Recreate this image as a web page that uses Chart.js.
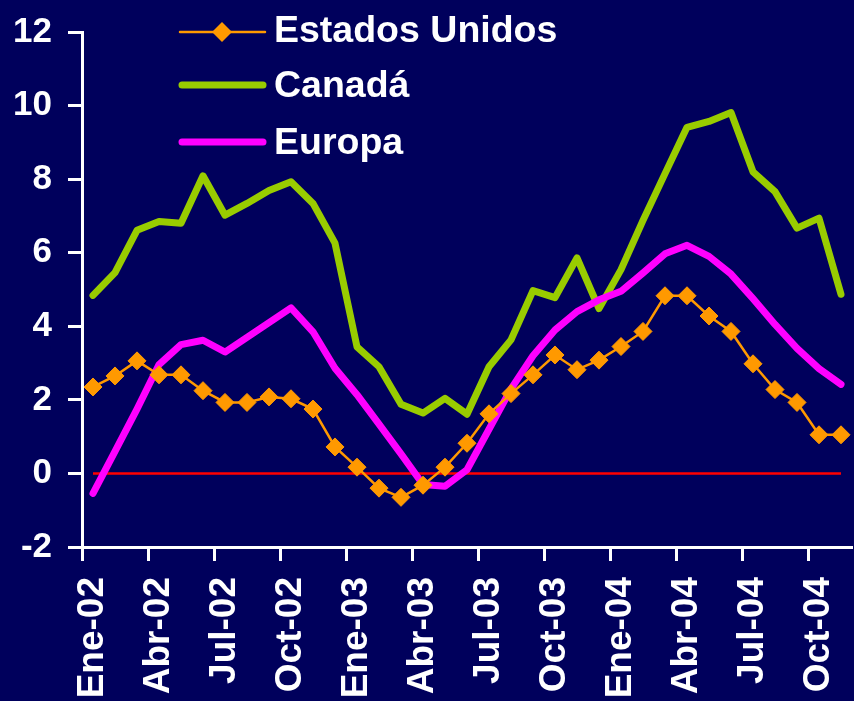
<!DOCTYPE html>
<html>
<head>
<meta charset="utf-8">
<script src="https://cdn.jsdelivr.net/npm/chart.js@4/dist/chart.umd.min.js"></script>
<style>
  html, body { margin: 0; padding: 0; background: #00005c; overflow: hidden; }
  #wrap { width: 862px; height: 701px; position: relative; }
</style>
</head>
<body>
<div id="wrap"><canvas id="inflation-chart"></canvas></div>
<script>
// Monthly labels, Ene-02 .. Nov-04
const months = [
  'Ene-02', 'Feb-02', 'Mar-02', 'Abr-02', 'May-02', 'Jun-02', 'Jul-02', 'Ago-02', 'Sep-02', 'Oct-02', 'Nov-02', 'Dic-02',
  'Ene-03', 'Feb-03', 'Mar-03', 'Abr-03', 'May-03', 'Jun-03', 'Jul-03', 'Ago-03', 'Sep-03', 'Oct-03', 'Nov-03', 'Dic-03',
  'Ene-04', 'Feb-04', 'Mar-04', 'Abr-04', 'May-04', 'Jun-04', 'Jul-04', 'Ago-04', 'Sep-04', 'Oct-04', 'Nov-04'
];

const estadosUnidos = [
  2.35, 2.65, 3.06, 2.68, 2.68, 2.25, 1.93, 1.93, 2.08, 2.03, 1.75, 0.72,
  0.17, -0.40, -0.65, -0.32, 0.17, 0.82, 1.62, 2.17, 2.68, 3.22, 2.82, 3.08,
  3.45, 3.86, 4.83, 4.83, 4.28, 3.86, 2.98, 2.28, 1.93, 1.05, 1.05
];

const canada = [
  4.84, 5.46, 6.61, 6.85, 6.80, 8.09, 7.02, 7.34, 7.69, 7.93, 7.34, 6.26,
  3.44, 2.90, 1.88, 1.64, 2.04, 1.61, 2.90, 3.63, 4.97, 4.78, 5.86, 4.48,
  5.54, 6.88, 8.15, 9.41, 9.57, 9.81, 8.20, 7.66, 6.67, 6.94, 4.87
];

const europa = [
  -0.54, 0.60, 1.75, 2.96, 3.50, 3.62, 3.30, 3.70, 4.10, 4.50, 3.85, 2.86,
  2.14, 1.34, 0.53, -0.30, -0.35, 0.10, 1.20, 2.30, 3.20, 3.90, 4.40, 4.72,
  4.95, 5.45, 5.97, 6.20, 5.90, 5.42, 4.75, 4.05, 3.40, 2.85, 2.42
];

const yTicks = { min: -2, max: 12, step: 2 };

const textFont = '"Liberation Sans", Arial, sans-serif';

// red reference line at zero, from first to last month
const zeroLine = {
  id: 'zeroLine',
  beforeDatasetsDraw(chart) {
    const { ctx, scales: { x, y } } = chart;
    ctx.save();
    ctx.strokeStyle = '#ff0000';
    ctx.lineWidth = 2.5;
    ctx.beginPath();
    ctx.moveTo(x.getPixelForValue(0), y.getPixelForValue(0));
    ctx.lineTo(x.getPixelForValue(months.length - 1), y.getPixelForValue(0));
    ctx.stroke();
    ctx.restore();
  }
};

// legend drawn inside the plot, top left
const insideLegend = {
  id: 'insideLegend',
  afterDraw(chart) {
    const ctx = chart.ctx;
    const ds = chart.data.datasets;
    const rows = [32, 85, 142];
    ctx.save();
    ctx.lineCap = 'round';
    ds.forEach((d, i) => {
      const y = rows[i];
      ctx.strokeStyle = d.borderColor;
      ctx.lineWidth = i === 0 ? 2.5 : 7;
      ctx.beginPath();
      ctx.moveTo(i === 0 ? 180 : 182, y);
      ctx.lineTo(i === 0 ? 265 : 263, y);
      ctx.stroke();
      if (i === 0) {
        ctx.fillStyle = d.pointBackgroundColor;
        ctx.beginPath();
        ctx.moveTo(222 - 10, y);
        ctx.lineTo(222, y - 10);
        ctx.lineTo(222 + 10, y);
        ctx.lineTo(222, y + 10);
        ctx.closePath();
        ctx.fill();
      }
      ctx.fillStyle = '#ffffff';
      ctx.font = 'bold 37.5px ' + textFont;
      ctx.textBaseline = 'alphabetic';
      ctx.fillText(d.label, 274, y + 10 + (i === 0 ? 0 : 2));
    });
    ctx.restore();
  }
};

new Chart('inflation-chart', {
  type: 'line',
  data: {
    labels: months,
    datasets: [{
      label: 'Estados Unidos',
      data: estadosUnidos,
      borderColor: '#ff9900',
      backgroundColor: '#ff9900',
      pointBackgroundColor: '#ff9900',
      pointBorderColor: '#ff9900',
      borderWidth: 2.5,
      pointStyle: 'rectRot',
      pointRadius: 9,
      pointBorderWidth: 1,
      tension: 0,
      order: 1
    }, {
      label: 'Canadá',
      data: canada,
      borderColor: '#99cc00',
      borderWidth: 7,
      borderCapStyle: 'round',
      borderJoinStyle: 'round',
      pointRadius: 0,
      tension: 0,
      order: 3
    }, {
      label: 'Europa',
      data: europa,
      borderColor: '#ff00ff',
      borderWidth: 7,
      borderCapStyle: 'round',
      borderJoinStyle: 'round',
      pointRadius: 0,
      tension: 0,
      order: 2
    }]
  },
  options: {
    responsive: true,
    maintainAspectRatio: false,
    animation: false,
    devicePixelRatio: 1,
    layout: { padding: { top: 32, right: 2, left: 0, bottom: 0 } },
    plugins: {
      legend: { display: false },
      tooltip: { enabled: false }
    },
    scales: {
      x: {
        type: 'category',
        offset: true,
        afterFit: s => {
          s.height = 154;
          s.paddingLeft = 0;
          s.paddingRight = 0;
        },
        border: { display: true, color: '#ffffff', width: 3 },
        grid: {
          offset: true,
          drawOnChartArea: false,
          tickLength: 14,
          tickWidth: 3,
          color: c => (c.index % 3 === 0 ? '#ffffff' : 'rgba(0,0,0,0)'),
          tickColor: c => (c.index % 3 === 0 ? '#ffffff' : 'rgba(0,0,0,0)')
        },
        ticks: {
          autoSkip: false,
          minRotation: 90,
          maxRotation: 90,
          padding: 16,
          color: '#ffffff',
          font: { family: textFont, size: 37, weight: 'bold' },
          callback: function (value, index) {
            return index % 3 === 0 ? this.getLabelForValue(value) : '';
          }
        }
      },
      y: {
        min: yTicks.min,
        max: yTicks.max,
        afterFit: s => {
          s.width = 82;
          s.paddingTop = 0;
          s.paddingBottom = 0;
        },
        border: { display: true, color: '#ffffff', width: 3 },
        grid: {
          drawOnChartArea: false,
          tickLength: 14,
          tickWidth: 3,
          color: '#ffffff',
          tickColor: '#ffffff'
        },
        ticks: {
          stepSize: yTicks.step,
          padding: 16,
          color: '#ffffff',
          font: { family: textFont, size: 35, weight: 'bold' }
        }
      }
    }
  },
  plugins: [zeroLine, insideLegend]
});
</script>
</body>
</html>
